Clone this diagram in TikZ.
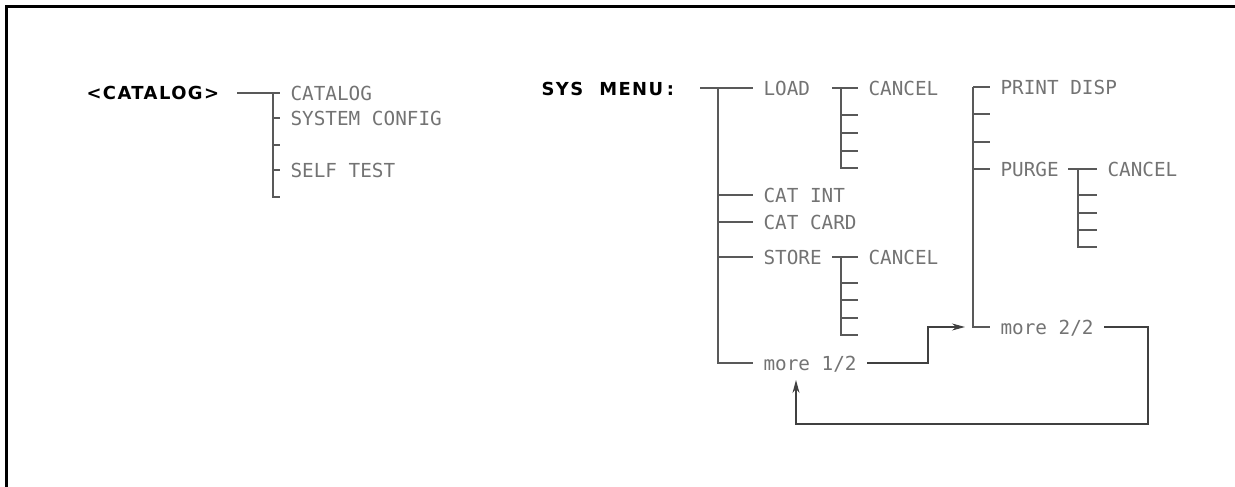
\documentclass[tikz,border=0pt]{standalone}
\usepackage{fontspec}
\usepackage{tikz}
\usetikzlibrary{arrows.meta}
\newfontfamily\menufont{DejaVu Sans Mono}
\newfontfamily\keyfont[LetterSpace=8]{DejaVu Sans}
\definecolor{menuline}{gray}{0.35}
\definecolor{menutext}{gray}{0.45}

\begin{document}
\begin{tikzpicture}[x=0.2mm, y=-0.2mm, line width=0.6pt,
  item/.style={anchor=west, inner xsep=2mm, inner ysep=0pt, text height=8pt, text depth=0pt,
    font=\menufont\fontsize{11}{13}\selectfont, text=menutext},
  key/.style={anchor=west, inner sep=0pt, text height=7.4pt, text depth=0pt,
    font=\keyfont\bfseries\fontsize{10.2}{12}\selectfont},
  bus/.style={draw=menuline},
  jump/.style={draw=black!75, -{Stealth[length=2.6mm,width=1.4mm]}}]
  \useasboundingbox (0,0) rectangle (1235,487);
  % frame: left and top edge only
  \draw[line width=1.7pt] (6.5,487) -- (6.5,6.5) -- (1235,6.5);
  % catalog key
  \node[key] (catkey) at (86,93) {<CATALOG>};
  \coordinate (catroot) at (237,93);
  \coordinate (catbus) at (273,93);
  \node[item] (catalog) at (280,93) {CATALOG};
  \node[item] (sysconf) at (280,118) {SYSTEM CONFIG};
  \node[item] (selftest) at (280,170) {SELF TEST};
  \draw[bus] (catroot) -- (catalog.west);
  \draw[bus] (catbus) -- (273,197) -- ++(7,0);
  \foreach \n in {sysconf,selftest}
    \draw[bus] (catbus |- \n.west) -- (\n.west);
  \draw[bus] (273,145) -- ++(7,0);
  % sys menu, page 1
  \node[key] (syskey) at (541,89) {SYS\hspace{0.9em}MENU\hspace{0.2em}:};
  \coordinate (sysroot) at (700,88);
  \coordinate (sysbus) at (718,88);
  \node[item] (load) at (753,88) {LOAD};
  \node[item] (catint) at (753,195) {CAT INT};
  \node[item] (catcard) at (753,222) {CAT CARD};
  \node[item] (store) at (753,257) {STORE};
  \node[item] (more1) at (753,363) {more 1/2};
  \draw[bus] (sysroot) -- (load.west);
  \draw[bus] (sysbus) -- (sysbus |- more1.west) -- (more1.west);
  \foreach \n in {catint,catcard,store}
    \draw[bus] (sysbus |- \n.west) -- (\n.west);
  % load submenu
  \coordinate (loadroot) at (832,88);
  \coordinate (loadbus) at (841,88);
  \node[item] (loadcancel) at (858,88) {CANCEL};
  \draw[bus] (loadroot) -- (loadcancel.west);
  \draw[bus] (loadbus) -- (841,168) -- ++(17,0);
  \foreach \y in {115,133,151}
    \draw[bus] (841,\y) -- ++(17,0);
  % store submenu
  \coordinate (storeroot) at (832,257);
  \coordinate (storebus) at (841,257);
  \node[item] (storecancel) at (858,257) {CANCEL};
  \draw[bus] (storeroot) -- (storecancel.west);
  \draw[bus] (storebus) -- (841,335) -- ++(17,0);
  \foreach \y in {283,300,318}
    \draw[bus] (841,\y) -- ++(17,0);
  % sys menu, page 2
  \coordinate (pagebus) at (973,87);
  \node[item] (printdisp) at (990,87) {PRINT DISP};
  \node[item] (purge) at (990,169) {PURGE};
  \node[item] (more2) at (990,327) {more 2/2};
  \draw[bus] (pagebus) -- (printdisp.west);
  \draw[bus] (pagebus) -- (pagebus |- more2.west) -- (more2.west);
  \draw[bus] (pagebus |- purge.west) -- (purge.west);
  \foreach \y in {114,142}
    \draw[bus] (973,\y) -- ++(17,0);
  % purge submenu
  \coordinate (purgeroot) at (1068,169);
  \coordinate (purgebus) at (1078,169);
  \node[item] (purgecancel) at (1097,169) {CANCEL};
  \draw[bus] (purgeroot) -- (purgecancel.west);
  \draw[bus] (purgebus) -- (1078,247) -- ++(19,0);
  \foreach \y in {195,213,230}
    \draw[bus] (1078,\y) -- ++(19,0);
  % page jumps
  \coordinate (more2in) at (965,327);
  \coordinate (more1in) at (796,380);
  \draw[jump] (more1.east) -- (928,363) -- (928,327) -- (more2in);
  \draw[jump] (more2.east) -- (1148,327) -- (1148,424) -- (796,424) -- (more1in);
\end{tikzpicture}
\end{document}
